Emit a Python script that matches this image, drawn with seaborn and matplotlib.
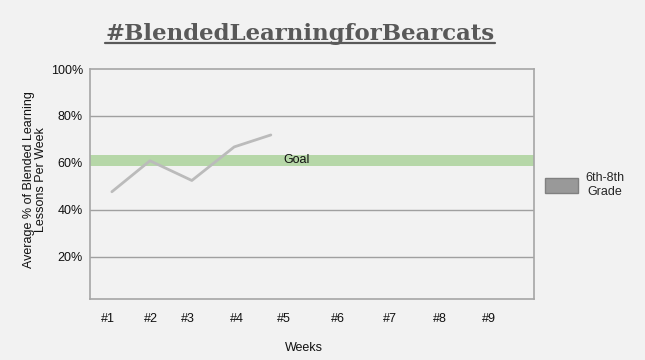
import matplotlib
matplotlib.use("Agg")
import matplotlib.pyplot as plt
from matplotlib.lines import Line2D
from matplotlib.patches import Patch
import numpy as np
import pandas as pd
import seaborn as sns

# values
week_x = [1.08, 1.88, 2.76, 3.65, 4.42]
pct_values = [47.7, 60.9, 52.5, 66.8, 71.9]
week_labels = ["#1", "#2", "#3", "#4", "#5", "#6", "#7", "#8", "#9"]
week_ticks = [1.0, 1.9, 2.68, 3.71, 4.70, 5.83, 6.92, 7.97, 9.0]
y_ticks = [20, 40, 60, 80, 100]
y_tick_labels = ["20%", "40%", "60%", "80%", "100%"]
grid_values = [20, 40, 80]
goal_low, goal_high = 58.7, 63.4
series_name = "6th-8th\nGrade"

BG = "#f2f2f2"


def plot_chart():
    sns.set_theme(style="white")
    plt.rcParams["font.family"] = ["Liberation Sans", "DejaVu Sans"]

    df = pd.DataFrame({"week": week_x, "pct": pct_values})

    fig = plt.figure(figsize=(6.45, 3.6), dpi=100, facecolor=BG)
    ax = fig.add_axes([90 / 645, 1 - 299 / 360, 444 / 645, 230 / 360])
    ax.set_facecolor(BG)

    ax.axhspan(goal_low, goal_high, color="#b6d7a8", lw=0, zorder=1)
    for g in grid_values:
        ax.axhline(g, color="#a0a0a0", lw=1.0, zorder=1)
    ax.text(4.97, (goal_low + goal_high) / 2, "Goal", ha="center", va="center",
            fontsize=9, color="#111111", zorder=3)

    sns.lineplot(data=df, x="week", y="pct", color="#bbbbbb", linewidth=2.0,
                 ax=ax, zorder=2, legend=False)

    ax.set_xlim(0.62, 9.95)
    ax.set_ylim(2, 100)
    ax.set_xticks(week_ticks)
    ax.set_xticklabels(week_labels)
    ax.set_yticks(y_ticks)
    ax.set_yticklabels(y_tick_labels)
    ax.tick_params(axis="x", length=0, pad=10, labelsize=9, colors="#111111")
    ax.tick_params(axis="y", length=0, pad=5, labelsize=9, colors="#111111")
    for s in ax.spines.values():
        s.set_color("#a6a6a6")
        s.set_linewidth(1.2)

    ax.set_xlabel("Weeks", fontsize=9, color="#111111")
    ax.xaxis.set_label_coords((304 - 90) / 444, -(342 - 299) / 230)
    ax.set_ylabel("Average % of Blended Learning\nLessons Per Week", fontsize=9,
                  color="#111111", linespacing=0.95)
    ax.yaxis.set_label_coords(-(90 - 47) / 444, (299 - 180) / 230)

    title = fig.text(300 / 645, 1 - 40 / 360, "#BlendedLearningforBearcats",
                     ha="center", va="baseline", fontsize=16.5, fontweight="bold",
                     family="DejaVu Serif", color="#595959")

    leg = fig.legend(handles=[Patch(facecolor="#999999", edgecolor="#808080")],
                     labels=[series_name], loc="center left",
                     bbox_to_anchor=(534 / 645, 1 - 185 / 360), frameon=False,
                     handlelength=2.6, handleheight=1.4, fontsize=9,
                     handletextpad=0.6)
    for t in leg.get_texts():
        t.set_multialignment("center")

    fig.canvas.draw()
    bb = title.get_window_extent()
    y_line = 1 - 43 / 360
    fig.add_artist(Line2D([bb.x0 / 645, bb.x1 / 645], [y_line, y_line],
                          color="#595959", lw=1.6, transform=fig.transFigure))

    fig.savefig("out.png", dpi=100, facecolor=BG)
    plt.close(fig)


plot_chart()
